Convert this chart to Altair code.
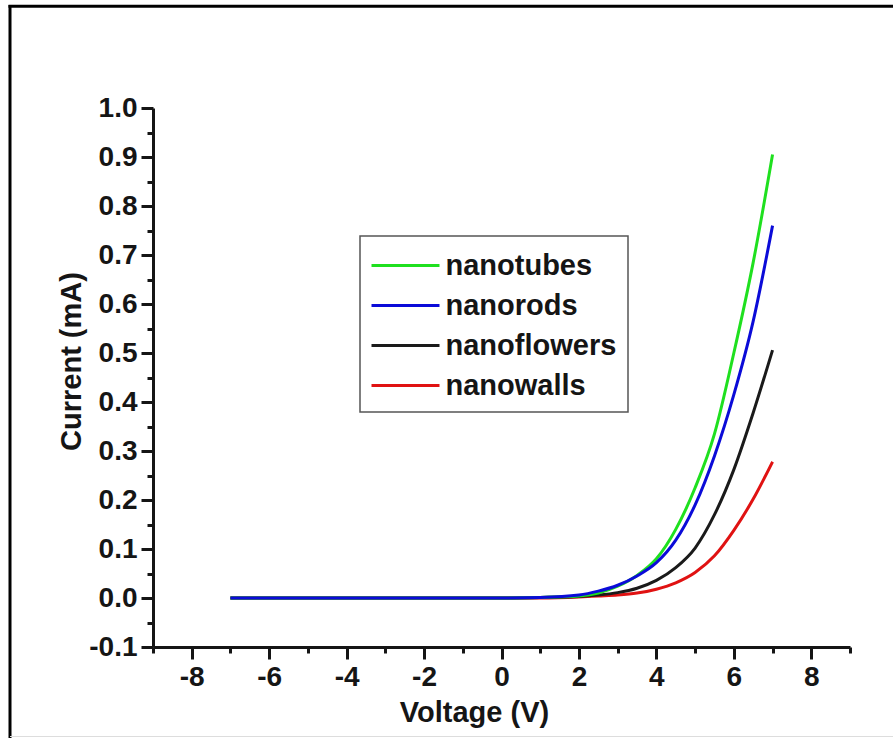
import altair as alt
import pandas as pd

# ---- data ----
voltage = [-7, -6, -5, -4, -3, -2, -1, 0, 1, 2, 2.5, 3, 3.5, 4, 4.5, 5, 5.5, 6, 6.5, 7]
nanotubes = [0, 0, 0, 0, 0, 0, 0, 0, 0.001, 0.004, 0.010, 0.024, 0.046, 0.080, 0.140, 0.225, 0.335, 0.500, 0.685, 0.905]
nanorods = [0, 0, 0, 0, 0, 0, 0, 0, 0.001, 0.006, 0.014, 0.026, 0.045, 0.072, 0.118, 0.190, 0.290, 0.415, 0.565, 0.760]
nanoflowers = [0, 0, 0, 0, 0, 0, 0, 0, 0.001, 0.003, 0.006, 0.011, 0.020, 0.036, 0.062, 0.102, 0.170, 0.262, 0.378, 0.506]
nanowalls = [0, 0, 0, 0, 0, 0, 0, 0, 0.000, 0.002, 0.004, 0.006, 0.010, 0.018, 0.031, 0.052, 0.086, 0.138, 0.202, 0.278]

series_names = ["nanotubes", "nanorods", "nanoflowers", "nanowalls"]
series_colors = ["#1fe01f", "#0b0bd8", "#1a1a1a", "#e01212"]
draw_order = ["nanowalls", "nanoflowers", "nanotubes", "nanorods"]

x_ticks = [-9, -8, -7, -6, -5, -4, -3, -2, -1, 0, 1, 2, 3, 4, 5, 6, 7, 8, 9]
y_ticks = [-0.1, -0.05, 0.0, 0.05, 0.1, 0.15, 0.2, 0.25, 0.3, 0.35, 0.4, 0.45,
           0.5, 0.55, 0.6, 0.65, 0.7, 0.75, 0.8, 0.85, 0.9, 0.95, 1.0]

values = {"nanotubes": nanotubes, "nanorods": nanorods,
          "nanoflowers": nanoflowers, "nanowalls": nanowalls}
rows = []
for name in draw_order:
    for v, i in zip(voltage, values[name]):
        rows.append({"Voltage": v, "Current": i, "Sample": name})
df = pd.DataFrame(rows)

FONT = "Liberation Sans"
INK = "#151515"

x_axis = alt.Axis(
    values=x_ticks, title="Voltage (V)", grid=False,
    domainColor=INK, domainWidth=3, tickColor=INK, tickWidth=3,
    tickSize={"condition": {"test": "datum.value % 2 === 0", "value": 12}, "value": 6},
    labelExpr="datum.value % 2 === 0 ? toString(datum.value) : ''",
    labelFont=FONT, labelFontSize=28, labelFontWeight="bold", labelColor=INK,
    labelPadding=4, labelOverlap=False, labelFlush=False,
    titleFont=FONT, titleFontSize=29, titleFontWeight="bold", titleColor=INK,
    titleX=321, titleY=74, titleBaseline="alphabetic", titleAlign="center",
)
y_axis = alt.Axis(
    values=y_ticks, title="Current (mA)", grid=False,
    domainColor=INK, domainWidth=3, tickColor=INK, tickWidth=3,
    tickSize={"condition": {"test": "abs(round(datum.value*20)) % 2 === 0", "value": 12}, "value": 6},
    labelExpr="abs(round(datum.value*20)) % 2 === 0 ? replace(format(datum.value, '.1f'), '\u2212', '-') : ''",
    labelFont=FONT, labelFontSize=28, labelFontWeight="bold", labelColor=INK,
    labelPadding=4, labelOverlap=False, labelFlush=False,
    titleFont=FONT, titleFontSize=29, titleFontWeight="bold", titleColor=INK,
    titleX=-73, titleY=253, titleBaseline="alphabetic", titleAlign="center", titleAngle=270,
)

color = alt.Color(
    "Sample:N",
    scale=alt.Scale(domain=series_names, range=series_colors),
    legend=alt.Legend(
        orient="none", legendX=207, legendY=128, title=None,
        symbolType="M-2.06,0H2.06", symbolSize=1089, symbolStrokeWidth=3,
        symbolOffset=16, labelOffset=22, labelLimit=0,
        labelFont=FONT, labelFontSize=29, labelFontWeight="bold", labelColor=INK,
        padding=11.5, rowPadding=7, strokeColor="#555555", fillColor="white",
    ),
)

base = alt.Chart(df).mark_line(strokeWidth=3, interpolate="monotone").encode(
    x=alt.X("Voltage:Q", scale=alt.Scale(domain=[-9, 9], nice=False, zero=False), axis=x_axis),
    y=alt.Y("Current:Q", scale=alt.Scale(domain=[-0.1, 1.0], nice=False, zero=False), axis=y_axis),
    color=color,
)

layers = [base.transform_filter(alt.datum.Sample == name) for name in draw_order]

one = alt.Data(values=[{"k": 1}])
frame_left = alt.Chart(one).mark_rule(color="#000000", strokeWidth=3).encode(
    x=alt.value(-143), y=alt.value(-103), y2=alt.value(630))
frame_top = alt.Chart(one).mark_rule(color="#000000", strokeWidth=3).encode(
    x=alt.value(-144.5), x2=alt.value(745), y=alt.value(-101.7))
frame_bottom = alt.Chart(one).mark_rule(color="#dddddd", strokeWidth=1).encode(
    x=alt.value(-143), x2=alt.value(745), y=alt.value(628.5))

chart = alt.layer(*layers, frame_left, frame_top, frame_bottom).properties(
    width=697, height=539,
    autosize=alt.AutoSizeParams(type="none"),
    padding={"left": 153, "top": 108, "right": 43, "bottom": 91},
    background="white",
).configure_view(stroke=None).configure_legend(strokeWidth=1.5)

chart.save("out.html", embed_options={"renderer": "svg", "actions": False})
